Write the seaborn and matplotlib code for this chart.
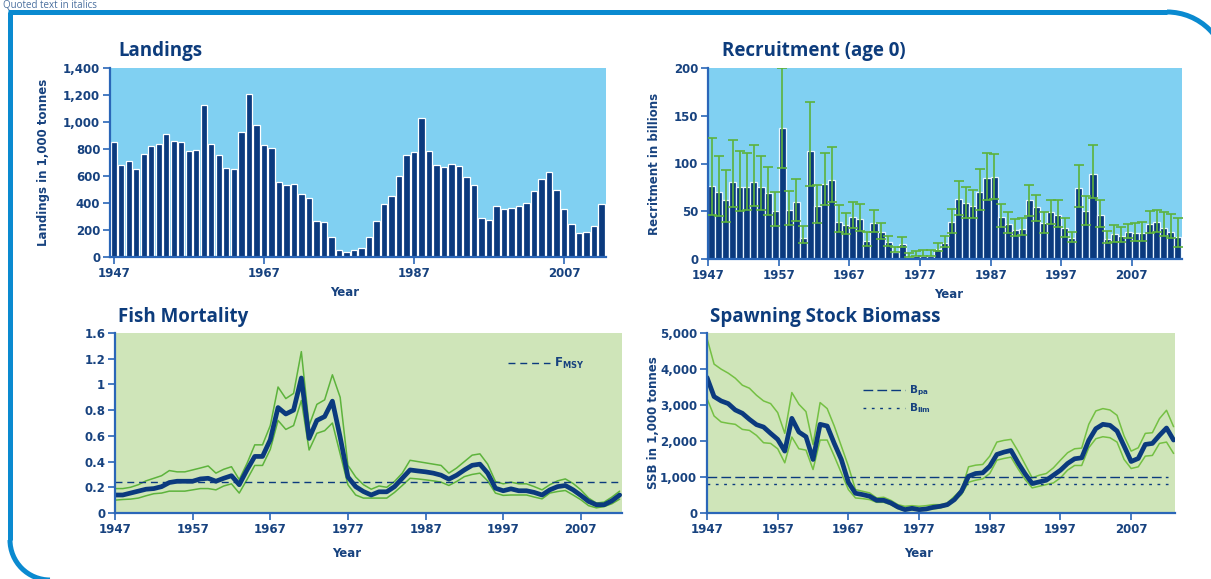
import numpy as np
import pandas as pd
import matplotlib
matplotlib.use('Agg')
import matplotlib.pyplot as plt
import seaborn as sns
from matplotlib.lines import Line2D
from matplotlib.patches import Arc
from matplotlib.ticker import FuncFormatter

# ---- data ----
land_years = list(range(1947, 2013))
landings = [850, 685, 710, 655, 765, 825, 840, 910, 860, 850,
            785, 790, 1125, 835, 757, 660, 655, 925, 1210, 975,
            833, 805, 555, 535, 540, 470, 440, 268, 262, 148,
            54, 37, 54, 67, 148, 264, 393, 449, 602, 758,
            778, 1032, 788, 684, 664, 689, 672, 593, 536, 291,
            274, 380, 356, 363, 380, 400, 486, 580, 627, 499,
            356, 244, 178, 185, 227, 393]

rec_years = list(range(1947, 2014))
recruits = [76, 70, 62, 81, 75.5, 75.5, 81, 75.5, 69, 50.7,
            137, 51.7, 59.4, 22.4, 113.6, 55.6, 79, 83.2, 38.8, 36,
            44.4, 42.3, 19.2, 37.4, 28, 17.5, 7.7, 16, 2.4, 3.5,
            3.5, 3.5, 10.5, 17, 38.5, 63, 59, 56, 70.6, 84.6,
            85.7, 44.4, 37, 30.4, 31.8, 62, 54, 37.4, 49, 46,
            32, 22.4, 74.8, 50.7, 89, 46, 21, 26, 24, 28,
            27, 27, 36.4, 38.5, 32, 28.7, 23]
rec_upper = [126.6, 107.7, 92.7, 125, 113, 111.5, 119, 108, 96.5, 70,
             200, 71.7, 83.6, 35, 164.7, 78, 111.5, 117.8, 56.3, 48.6,
             59.4, 57.7, 28.3, 51.4, 37.4, 24.5, 13, 23.4, 6.6, 8.4,
             9.4, 9.4, 16.8, 24.5, 52.4, 82, 75.5, 72.4, 94, 111,
             110, 57.7, 49, 41.6, 43.4, 77.6, 67.5, 49, 62.2, 62,
             43.4, 28.3, 98, 66, 119, 61.5, 29.7, 35.3, 33, 37,
             38, 38.8, 50.3, 51.7, 49.6, 47.2, 42.7]
rec_lower = [46, 45, 38.5, 54, 50.7, 51.7, 55.6, 51.7, 46, 35,
             95, 36, 39.5, 16.4, 76.2, 38, 57, 60, 28.3, 26.6,
             32.5, 29.7, 14, 28, 21, 13.6, 7, 12.6, 2.4, 3.5,
             3.5, 3.5, 8, 13, 27, 46, 43, 43, 51.4, 61.5,
             62.6, 33, 27.6, 24, 25.5, 45.5, 39.5, 27.6, 36.4, 33,
             23.4, 17.5, 54.5, 35.3, 64.3, 33, 16.4, 18, 17.8, 21.7,
             18.5, 19, 27.6, 28, 24, 21.7, 13]

f_years = list(range(1947, 2013))
f_mort = [0.14, 0.14, 0.155, 0.17, 0.185, 0.19, 0.205, 0.237, 0.247, 0.247,
          0.247, 0.265, 0.27, 0.247, 0.27, 0.29, 0.22, 0.335, 0.44, 0.44,
          0.57, 0.82, 0.77, 0.80, 1.05, 0.58, 0.72, 0.75, 0.87, 0.59,
          0.28, 0.205, 0.167, 0.14, 0.165, 0.165, 0.205, 0.27, 0.335, 0.327,
          0.32, 0.31, 0.294, 0.263, 0.294, 0.335, 0.371, 0.38, 0.31, 0.193,
          0.173, 0.188, 0.173, 0.173, 0.16, 0.14, 0.18, 0.205, 0.214, 0.18,
          0.137, 0.09, 0.064, 0.064, 0.095, 0.14]
f_upper = [0.19, 0.19, 0.2, 0.22, 0.25, 0.27, 0.29, 0.33, 0.32, 0.32,
           0.335, 0.35, 0.366, 0.31, 0.34, 0.36, 0.26, 0.385, 0.53, 0.53,
           0.68, 0.98, 0.89, 0.93, 1.255, 0.68, 0.845, 0.88, 1.075, 0.9,
           0.37, 0.28, 0.22, 0.185, 0.21, 0.2, 0.245, 0.31, 0.41, 0.40,
           0.39, 0.38, 0.37, 0.31, 0.35, 0.40, 0.45, 0.46, 0.38, 0.245,
           0.227, 0.24, 0.227, 0.227, 0.205, 0.18, 0.22, 0.25, 0.265, 0.23,
           0.18, 0.116, 0.077, 0.085, 0.124, 0.17]
f_lower = [0.1, 0.105, 0.108, 0.116, 0.134, 0.15, 0.155, 0.17, 0.17, 0.17,
           0.18, 0.19, 0.19, 0.18, 0.21, 0.227, 0.155, 0.26, 0.37, 0.37,
           0.495, 0.72, 0.65, 0.68, 0.875, 0.49, 0.62, 0.64, 0.70, 0.46,
           0.22, 0.14, 0.116, 0.116, 0.116, 0.116, 0.16, 0.214, 0.27, 0.265,
           0.258, 0.25, 0.24, 0.214, 0.245, 0.283, 0.30, 0.31, 0.25, 0.155,
           0.137, 0.14, 0.14, 0.14, 0.124, 0.11, 0.155, 0.167, 0.175, 0.14,
           0.103, 0.057, 0.04, 0.05, 0.072, 0.108]
f_msy = 0.24

ssb_years = list(range(1947, 2014))
ssb = [3764, 3234, 3113, 3039, 2862, 2770, 2602, 2454, 2388, 2212,
       2045, 1719, 2630, 2249, 2119, 1487, 2463, 2416, 1933, 1487,
       850, 548, 511, 465, 353, 353, 279, 167, 93, 130,
       93, 111, 158, 186, 232, 372, 604, 1022, 1097, 1115,
       1301, 1626, 1691, 1738, 1394, 1087, 818, 864, 911, 1050,
       1190, 1375, 1506, 1533, 2017, 2342, 2463, 2435, 2277, 1859,
       1431, 1515, 1905, 1933, 2156, 2361, 2026]
ssb_upper = [4851, 4136, 3996, 3885, 3745, 3550, 3466, 3271, 3113, 3039,
             2788, 2212, 3346, 3020, 2816, 1900, 3067, 2900, 2416, 1859,
             1300, 650, 604, 558, 418, 437, 353, 232, 186, 204,
             186, 204, 232, 232, 279, 465, 650, 1283, 1329, 1348,
             1580, 1970, 2017, 2045, 1719, 1348, 976, 1050, 1097, 1255,
             1468, 1673, 1784, 1803, 2463, 2835, 2900, 2862, 2714, 2138,
             1719, 1812, 2212, 2230, 2621, 2853, 2398]
ssb_lower = [3178, 2695, 2528, 2491, 2463, 2323, 2295, 2156, 1952, 1933,
             1784, 1394, 2110, 1784, 1747, 1208, 2026, 2026, 1580, 1115,
             650, 418, 400, 372, 297, 297, 232, 121, 65, 93,
             65, 93, 111, 139, 204, 353, 511, 855, 911, 948,
             1097, 1468, 1515, 1552, 1227, 930, 697, 744, 790, 836,
             976, 1190, 1320, 1320, 1812, 2063, 2119, 2091, 1970, 1487,
             1236, 1283, 1580, 1599, 1933, 1970, 1654]
b_pa = 1000
b_lim = 800

# ---- style ----
NAVY = '#0b3a7e'
TXT = '#17427f'
SPINE = '#2a66b8'
GREEN = '#5db33c'
BLUE_BG = '#80d0f2'
GREEN_BG = '#cfe5b9'
FRAME = '#0a8ad0'
TITLEFONT = ['Open Sans', 'DejaVu Sans']

sns.set_theme(style='white')
plt.rcParams['font.family'] = ['DejaVu Sans']
plt.rcParams['axes.edgecolor'] = SPINE

W, H = 1211, 579
fig = plt.figure(figsize=(W / 100, H / 100), dpi=100)

# frame (drawn in pixel coordinates on a background axes, y pointing down)
bg = fig.add_axes([0, 0, 1, 1], zorder=-5)
bg.set_xlim(0, W)
bg.set_ylim(H, 0)
bg.axis('off')
bg.plot([10, 10], [12, 540], color=FRAME, lw=3.6, solid_capstyle='butt')
bg.plot([8, 1167], [12, 12], color=FRAME, lw=3.6, solid_capstyle='butt')
bg.add_patch(Arc((50, 540), 80, 80, theta1=90, theta2=180, color=FRAME, lw=3.6))
bg.add_patch(Arc((1167, 72), 120, 120, theta1=270, theta2=360, color=FRAME, lw=3.6))
bg.text(3, 5, 'Quoted text in italics', color='#4a6f9e', fontsize=7, va='center', ha='left',
        family=TITLEFONT)


def px_axes(left, top, right, bottom):
    return fig.add_axes([left / W, 1 - bottom / H, (right - left) / W, (bottom - top) / H])


def style_axes(ax, facecolor, title, tx):
    ax.set_facecolor(facecolor)
    for s in ['top', 'right']:
        ax.spines[s].set_visible(False)
    ax.spines['left'].set_color(SPINE)
    ax.spines['left'].set_linewidth(1.6)
    ax.spines['bottom'].set_color(SPINE)
    ax.spines['bottom'].set_linewidth(1.6)
    ax.tick_params(axis='both', which='major', length=5, width=1.2, color=SPINE,
                   labelcolor=TXT, labelsize=8.5, pad=2, bottom=True, left=True)
    for lab in ax.get_xticklabels() + ax.get_yticklabels():
        lab.set_fontweight('bold')
    ax.text(tx, 1.035, title, transform=ax.transAxes, color='#0d3c7c', fontsize=13.5,
            fontweight='bold', ha='left', va='bottom', family=TITLEFONT)
    ax.set_xlabel('Year', color=TXT, fontsize=8.5, fontweight='bold')
    ax.set_ylabel('')


comma = FuncFormatter(lambda v, p: f'{int(v):,}')

# ---- Landings ----
ax1 = px_axes(110, 68, 606, 257)
df_land = pd.DataFrame({'year': land_years, 'landings': landings})
sns.barplot(data=df_land, x='year', y='landings', native_scale=True, color=NAVY,
            saturation=1, width=0.85, edgecolor='white', linewidth=0.9, ax=ax1)
ax1.set_xlim(1946.5, 2012.6)
ax1.set_ylim(0, 1400)
ax1.set_xticks([1947, 1967, 1987, 2007])
ax1.set_yticks(range(0, 1401, 200))
ax1.yaxis.set_major_formatter(comma)
style_axes(ax1, BLUE_BG, 'Landings', 0.016)
ax1.set_ylabel('Landings in 1,000 tonnes', color=TXT, fontsize=8.5, fontweight='bold')
ax1.yaxis.set_label_coords(-0.12, 0.5)
ax1.xaxis.set_label_coords(0.474, -0.155)

# ---- Recruitment ----
ax2 = px_axes(708, 68, 1182, 259)
rec_x = [y + 0.5 for y in rec_years]
df_rec = pd.DataFrame({'x': rec_x, 'rec': recruits})
sns.barplot(data=df_rec, x='x', y='rec', native_scale=True, color=NAVY,
            saturation=1, width=1.0, edgecolor='#e8f6ff', linewidth=0.9, ax=ax2)
yerr = [np.array(recruits) - np.array(rec_lower), np.array(rec_upper) - np.array(recruits)]
ax2.errorbar(rec_x, recruits, yerr=yerr, fmt='none', ecolor=GREEN, elinewidth=1.2,
             capsize=3.6, capthick=1.2, zorder=5)
ax2.set_xlim(1947, 2014.1)
ax2.set_ylim(0, 200)
ax2.set_xticks(range(1947, 2008, 10))
ax2.set_yticks(range(0, 201, 50))
style_axes(ax2, BLUE_BG, 'Recruitment (age 0)', 0.03)
ax2.set_ylabel('Recritment in billions', color=TXT, fontsize=8.5, fontweight='bold')
ax2.yaxis.set_label_coords(-0.1, 0.5)
ax2.xaxis.set_label_coords(0.508, -0.15)

# ---- Fish Mortality ----
ax3 = px_axes(115, 333, 622, 513)
df_f = pd.DataFrame({'year': f_years, 'F': f_mort, 'lo': f_lower, 'hi': f_upper})
sns.lineplot(data=df_f, x='year', y='hi', color=GREEN, lw=1.1, ax=ax3)
sns.lineplot(data=df_f, x='year', y='lo', color=GREEN, lw=1.1, ax=ax3)
sns.lineplot(data=df_f, x='year', y='F', color=NAVY, lw=3.4, ax=ax3)
ax3.axhline(f_msy, color=NAVY, lw=1, ls=(0, (5, 3.5)))
ax3.set_xlim(1947, 2012.3)
ax3.set_ylim(0, 1.4)
ax3.set_xticks(range(1947, 2008, 10))
ax3.set_yticks(np.arange(0, 1.41, 0.2))
ax3.set_yticklabels(['0', '0.2', '0.4', '0.6', '0.8', '1', '1.2', '1.6'])
style_axes(ax3, GREEN_BG, 'Fish Mortality', 0.006)
ax3.xaxis.set_label_coords(0.457, -0.19)
h_f = [Line2D([], [], color=NAVY, lw=1, ls=(0, (5, 3.5)))]
leg = ax3.legend(h_f, ['F$_\\mathregular{MSY}$'], loc='center left', bbox_to_anchor=(0.765, 0.83),
                 frameon=False, handlelength=3.6, fontsize=8.5, borderaxespad=0, handletextpad=0.3)
for t in leg.get_texts():
    t.set_color(TXT)
    t.set_fontweight('bold')

# ---- Spawning Stock Biomass ----
ax4 = px_axes(707, 333, 1175, 513)
df_s = pd.DataFrame({'year': ssb_years, 'ssb': ssb, 'lo': ssb_lower, 'hi': ssb_upper})
sns.lineplot(data=df_s, x='year', y='hi', color='#74c043', lw=1.1, ax=ax4)
sns.lineplot(data=df_s, x='year', y='lo', color='#74c043', lw=1.1, ax=ax4)
sns.lineplot(data=df_s, x='year', y='ssb', color=NAVY, lw=3.4, ax=ax4)
ax4.axhline(b_pa, color=NAVY, lw=1, ls=(0, (7, 3)), xmax=0.985)
ax4.axhline(b_lim, color=NAVY, lw=1, ls=(0, (2, 4)), xmax=0.985)
ax4.set_xlim(1947, 2013.2)
ax4.set_ylim(0, 5000)
ax4.set_xticks(range(1947, 2008, 10))
ax4.set_yticks(range(0, 5001, 1000))
ax4.yaxis.set_major_formatter(comma)
style_axes(ax4, GREEN_BG, 'Spawning Stock Biomass', 0.006)
ax4.set_ylabel('SSB in 1,000 tonnes', color=TXT, fontsize=8.5, fontweight='bold')
ax4.yaxis.set_label_coords(-0.1, 0.5)
ax4.xaxis.set_label_coords(0.452, -0.19)
h_b = [Line2D([], [], color=NAVY, lw=1, ls=(0, (7, 3))),
       Line2D([], [], color=NAVY, lw=1, ls=(0, (2, 4)))]
leg2 = ax4.legend(h_b, ['B$_\\mathregular{pa}$', 'B$_\\mathregular{lim}$'], loc='center left',
                  bbox_to_anchor=(0.325, 0.63), frameon=False, handlelength=4, fontsize=7.5,
                  borderaxespad=0, handletextpad=0.4, labelspacing=0.3)
for t in leg2.get_texts():
    t.set_color(TXT)
    t.set_fontweight('bold')

fig.savefig('out.png', dpi=100)
